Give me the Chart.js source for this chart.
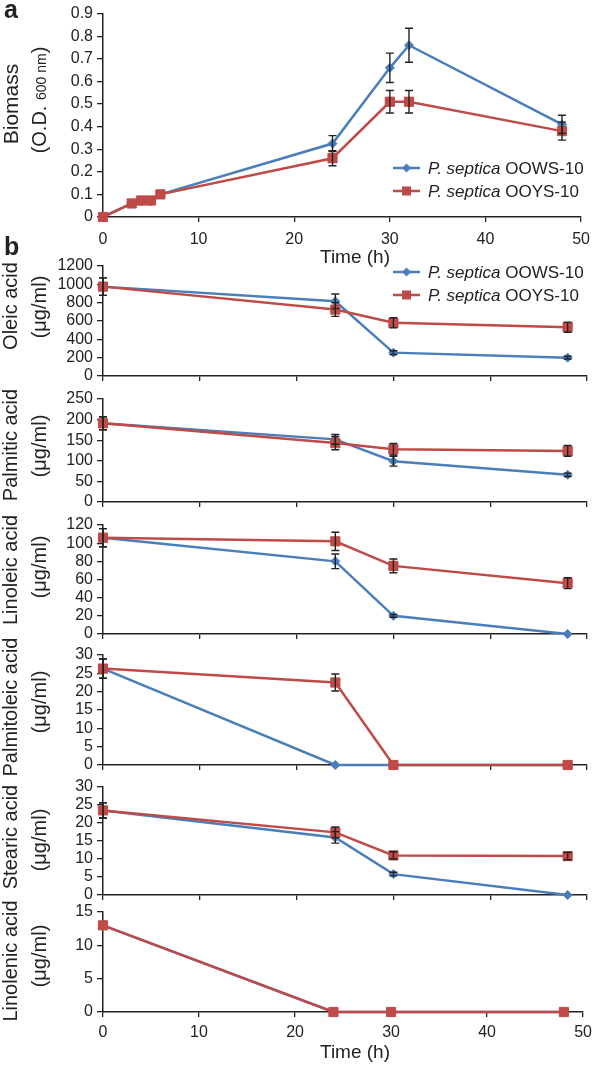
<!DOCTYPE html>
<html>
<head>
<meta charset="utf-8">
<script src="https://cdn.jsdelivr.net/npm/chart.js@4.4.0/dist/chart.umd.min.js"></script>
<style>
  html, body { margin: 0; padding: 0; background: #fff; }
  body { width: 598px; height: 1067px; position: relative; overflow: hidden; }
  canvas { position: absolute; left: 0; top: 0; }
</style>
</head>
<body>
<script>
// panel a: growth curve
const growthHours = [0, 3, 4, 5, 6, 24, 30, 32, 48];
const biomassOOWS = [0, 0.06, 0.07, 0.07, 0.10, 0.325, 0.66, 0.76, 0.41];
const biomassOOYS = [0, 0.06, 0.073, 0.073, 0.10, 0.26, 0.51, 0.51, 0.38];
const biomassErrOOWS = [0, 0, 0, 0, 0, 0.035, 0.065, 0.075, 0.04];
const biomassErrOOYS = [0, 0, 0, 0, 0, 0.033, 0.05, 0.05, 0.04];

// panel b: fatty acids (ug/ml)
const sampleHours = [0, 24, 30, 48];
const oleicOOWS = [975, 815, 255, 200];
const oleicOOYS = [975, 725, 580, 533];
const oleicErrOOWS = [95, 80, 20, 15];
const oleicErrOOYS = [95, 75, 55, 55];
const palmiticOOWS = [191, 152, 99, 66];
const palmiticOOYS = [191, 143, 128, 124];
const palmiticErrOOWS = [16, 12, 12, 4];
const palmiticErrOOYS = [16, 16, 14, 13];
const linoleicOOWS = [106, 80, 20, 0];
const linoleicOOYS = [106, 102, 75, 56];
const linoleicErrOOWS = [10, 8, 1.5, 0];
const linoleicErrOOYS = [10, 10, 7.5, 6];
const palmitoleicOOWS = [26.3, 0, 0, 0];
const palmitoleicOOYS = [26.3, 22.5, 0, 0];
const palmitoleicErrOOWS = [2.6, 0, 0, 0];
const palmitoleicErrOOYS = [2.6, 2.3, 0, 0];
const stearicOOWS = [23.5, 16, 5.8, 0];
const stearicOOYS = [23.5, 17.4, 11, 10.8];
const stearicErrOOWS = [2.1, 1.6, 0.5, 0];
const stearicErrOOYS = [2.1, 1.5, 1, 1];
const linolenicOOWS = [13, 0, 0, 0];
const linolenicOOYS = [13, 0, 0, 0];

const strainLabels = ["P. septica OOWS-10", "P. septica OOYS-10"];
const timeTicks = { min: 0, max: 50, step: 10 };

const FONT = '"Liberation Sans", Arial, Helvetica, sans-serif';
const BLUE = "#4a7ebb";
const RED = "#be4b48";
const INK = "#222";
const W = 598, H = 1067;

function pts(xs, ys) {
    return xs.map((x, i) => ({ x: x, y: ys[i] }));
}

// error bars from the dataset's errors array
const errorBars = {
    id: "errorBars",
    afterDatasetsDraw(chart) {
        const ctx = chart.ctx;
        const xs = chart.scales.x, ys = chart.scales.y;
        ctx.save();
        ctx.strokeStyle = INK;
        ctx.lineWidth = 1.4;
        chart.data.datasets.forEach(ds => {
            if (!ds.errors) return;
            ds.data.forEach((p, i) => {
                const e = ds.errors[i];
                if (!e) return;
                const x = xs.getPixelForValue(p.x);
                const y1 = ys.getPixelForValue(p.y + e);
                const y2 = ys.getPixelForValue(p.y - e);
                ctx.beginPath();
                ctx.moveTo(x, y1); ctx.lineTo(x, y2);
                ctx.moveTo(x - 4, y1); ctx.lineTo(x + 4, y1);
                ctx.moveTo(x - 4, y2); ctx.lineTo(x + 4, y2);
                ctx.stroke();
            });
        });
        ctx.restore();
    }
};

function drawPieces(ctx, pieces, x, y, centered) {
    let total = 0;
    pieces.forEach(p => {
        ctx.font = `${p.style || ""} ${p.size}px ${FONT}`;
        p.w = ctx.measureText(p.t).width;
        total += p.w;
    });
    let cx = centered ? x - total / 2 : x;
    pieces.forEach(p => {
        ctx.font = `${p.style || ""} ${p.size}px ${FONT}`;
        ctx.fillText(p.t, cx, y);
        cx += p.w;
    });
}

function marker(ctx, style, x, y, color) {
    ctx.fillStyle = color;
    ctx.beginPath();
    if (style === "rect") {
        ctx.rect(x - 4.5, y - 4.5, 9, 9);
    } else {
        ctx.moveTo(x, y - 4.5); ctx.lineTo(x + 4.5, y);
        ctx.lineTo(x, y + 4.5); ctx.lineTo(x - 4.5, y);
        ctx.closePath();
    }
    ctx.fill();
}

// titles, panel letters and legend (page coords, every canvas covers the page)
function deco(items) {
    return {
        id: "deco",
        afterDraw(chart) {
            const ctx = chart.ctx;
            ctx.save();
            ctx.fillStyle = INK;
            ctx.textAlign = "left";
            ctx.textBaseline = "alphabetic";
            (items.yTitle || []).forEach(line => {
                ctx.save();
                ctx.translate(line.x, line.cy);
                ctx.rotate(-Math.PI / 2);
                ctx.fillStyle = INK;
                drawPieces(ctx, line.pieces, 0, 0, true);
                ctx.restore();
            });
            if (items.xTitle) {
                drawPieces(ctx, [{ t: items.xTitle.t, size: 19 }], items.xTitle.x, items.xTitle.y, true);
            }
            if (items.letter) {
                drawPieces(ctx, [{ t: items.letter.t, size: 25, style: "bold" }], 4, items.letter.y, false);
            }
            if (items.legend) {
                chart.data.datasets.forEach((ds, i) => {
                    const y = items.legend[i];
                    ctx.strokeStyle = ds.borderColor;
                    ctx.lineWidth = 2.5;
                    ctx.beginPath();
                    ctx.moveTo(393, y); ctx.lineTo(420, y);
                    ctx.stroke();
                    marker(ctx, ds.pointStyle, 406.5, y, ds.borderColor);
                    const cut = ds.label.lastIndexOf(" ");
                    ctx.fillStyle = INK;
                    drawPieces(ctx, [
                        { t: ds.label.slice(0, cut + 1), size: 17, style: "italic" },
                        { t: ds.label.slice(cut + 1), size: 17 }
                    ], 428, y + 6, false);
                });
            }
            ctx.restore();
        }
    };
}

function ugml(name, cy1, cy2) {
    return [
        { x: 17, cy: cy1, pieces: [{ t: name, size: 20 }] },
        { x: 46, cy: cy2, pieces: [{ t: "(\u03bcg/ml)", size: 20 }] }
    ];
}

function makePanel(p) {
    const c = document.createElement("canvas");
    c.width = W;
    c.height = H;
    document.body.appendChild(c);

    // red drawn over blue (higher order = drawn first)
    const sets = [
        { label: strainLabels[0], data: pts(p.xs, p.blue), errors: p.blueErr, order: 1,
          borderColor: BLUE, backgroundColor: BLUE, pointStyle: "rectRot",
          pointRadius: 4.5, pointBorderWidth: 1 },
        { label: strainLabels[1], data: pts(p.xs, p.red), errors: p.redErr, order: 0,
          borderColor: RED, backgroundColor: RED, pointStyle: "rect",
          pointRadius: 6.5, pointBorderWidth: 1 }
    ];
    sets.forEach(s => { s.borderWidth = 2.5; s.clip = false; s.tension = 0; });

    return new Chart(c, {
        type: "line",
        data: { datasets: sets },
        options: {
            responsive: false,
            animation: false,
            layout: { padding: { top: p.plotTop, right: 11, bottom: H - p.plotBottom - p.below, left: 0 } },
            plugins: { legend: { display: false }, tooltip: { enabled: false } },
            scales: {
                x: {
                    type: "linear",
                    min: timeTicks.min, max: timeTicks.max,
                    ticks: { stepSize: timeTicks.step, display: p.xLabels, padding: p.xPad || 5,
                             autoSkip: false, color: INK, font: { family: FONT, size: 16 } },
                    grid: { drawOnChartArea: false, tickLength: 5, color: INK, lineWidth: 1.3 },
                    border: { color: INK, width: 1.5 },
                    afterFit: s => { s.height = p.below; }
                },
                y: {
                    min: p.yMin, max: p.yMax,
                    ticks: { stepSize: p.yStep, padding: 4, color: INK, autoSkip: false,
                             font: { family: FONT, size: 16 },
                             callback: v => String(Math.round(v * 10) / 10) },
                    grid: { drawOnChartArea: false, tickLength: 6, color: INK, lineWidth: 1.3 },
                    border: { color: INK, width: 1.5 },
                    afterFit: s => { s.width = 103; }
                }
            }
        },
        plugins: [errorBars, deco(p.deco)]
    });
}

makePanel({
    plotTop: 7, plotBottom: 217, below: 53, xLabels: true, xPad: 8,
    yMin: 0, yMax: 0.9, yStep: 0.1,
    xs: growthHours, blue: biomassOOWS, red: biomassOOYS,
    blueErr: biomassErrOOWS, redErr: biomassErrOOYS,
    deco: {
        letter: { t: "a", y: 18 },
        yTitle: [
            { x: 18, cy: 104, pieces: [{ t: "Biomass", size: 21 }] },
            { x: 46, cy: 100, pieces: [{ t: "(O.D. ", size: 20 }, { t: "600 nm", size: 14 }, { t: ")", size: 20 }] }
        ],
        xTitle: { t: "Time (h)", x: 355, y: 263 },
        legend: [168, 191]
    }
});

makePanel({
    plotTop: 266, plotBottom: 376, below: 8, xLabels: false,
    yMin: 0, yMax: 1200, yStep: 200,
    xs: sampleHours, blue: oleicOOWS, red: oleicOOYS,
    blueErr: oleicErrOOWS, redErr: oleicErrOOYS,
    deco: {
        letter: { t: "b", y: 255 },
        yTitle: ugml("Oleic acid", 306, 307),
        legend: [272, 295]
    }
});

makePanel({
    plotTop: 399, plotBottom: 502, below: 8, xLabels: false,
    yMin: 0, yMax: 250, yStep: 50,
    xs: sampleHours, blue: palmiticOOWS, red: palmiticOOYS,
    blueErr: palmiticErrOOWS, redErr: palmiticErrOOYS,
    deco: { yTitle: ugml("Palmitic acid", 445, 446) }
});

makePanel({
    plotTop: 525, plotBottom: 634, below: 8, xLabels: false,
    yMin: 0, yMax: 120, yStep: 20,
    xs: sampleHours, blue: linoleicOOWS, red: linoleicOOYS,
    blueErr: linoleicErrOOWS, redErr: linoleicErrOOYS,
    deco: { yTitle: ugml("Linoleic acid", 570, 567) }
});

makePanel({
    plotTop: 655, plotBottom: 765, below: 8, xLabels: false,
    yMin: 0, yMax: 30, yStep: 5,
    xs: sampleHours, blue: palmitoleicOOWS, red: palmitoleicOOYS,
    blueErr: palmitoleicErrOOWS, redErr: palmitoleicErrOOYS,
    deco: { yTitle: ugml("Palmitoleic acid", 707, 702) }
});

makePanel({
    plotTop: 787, plotBottom: 895, below: 8, xLabels: false,
    yMin: 0, yMax: 30, yStep: 5,
    xs: sampleHours, blue: stearicOOWS, red: stearicOOYS,
    blueErr: stearicErrOOWS, redErr: stearicErrOOYS,
    deco: { yTitle: ugml("Stearic acid", 837, 840) }
});

makePanel({
    plotTop: 912, plotBottom: 1012, below: 55, xLabels: true, xPad: 6,
    yMin: 0, yMax: 15, yStep: 5,
    xs: sampleHours, blue: linolenicOOWS, red: linolenicOOYS,
    deco: {
        yTitle: ugml("Linolenic acid", 961, 956),
        xTitle: { t: "Time (h)", x: 355, y: 1058 }
    }
});
</script>
</body>
</html>
